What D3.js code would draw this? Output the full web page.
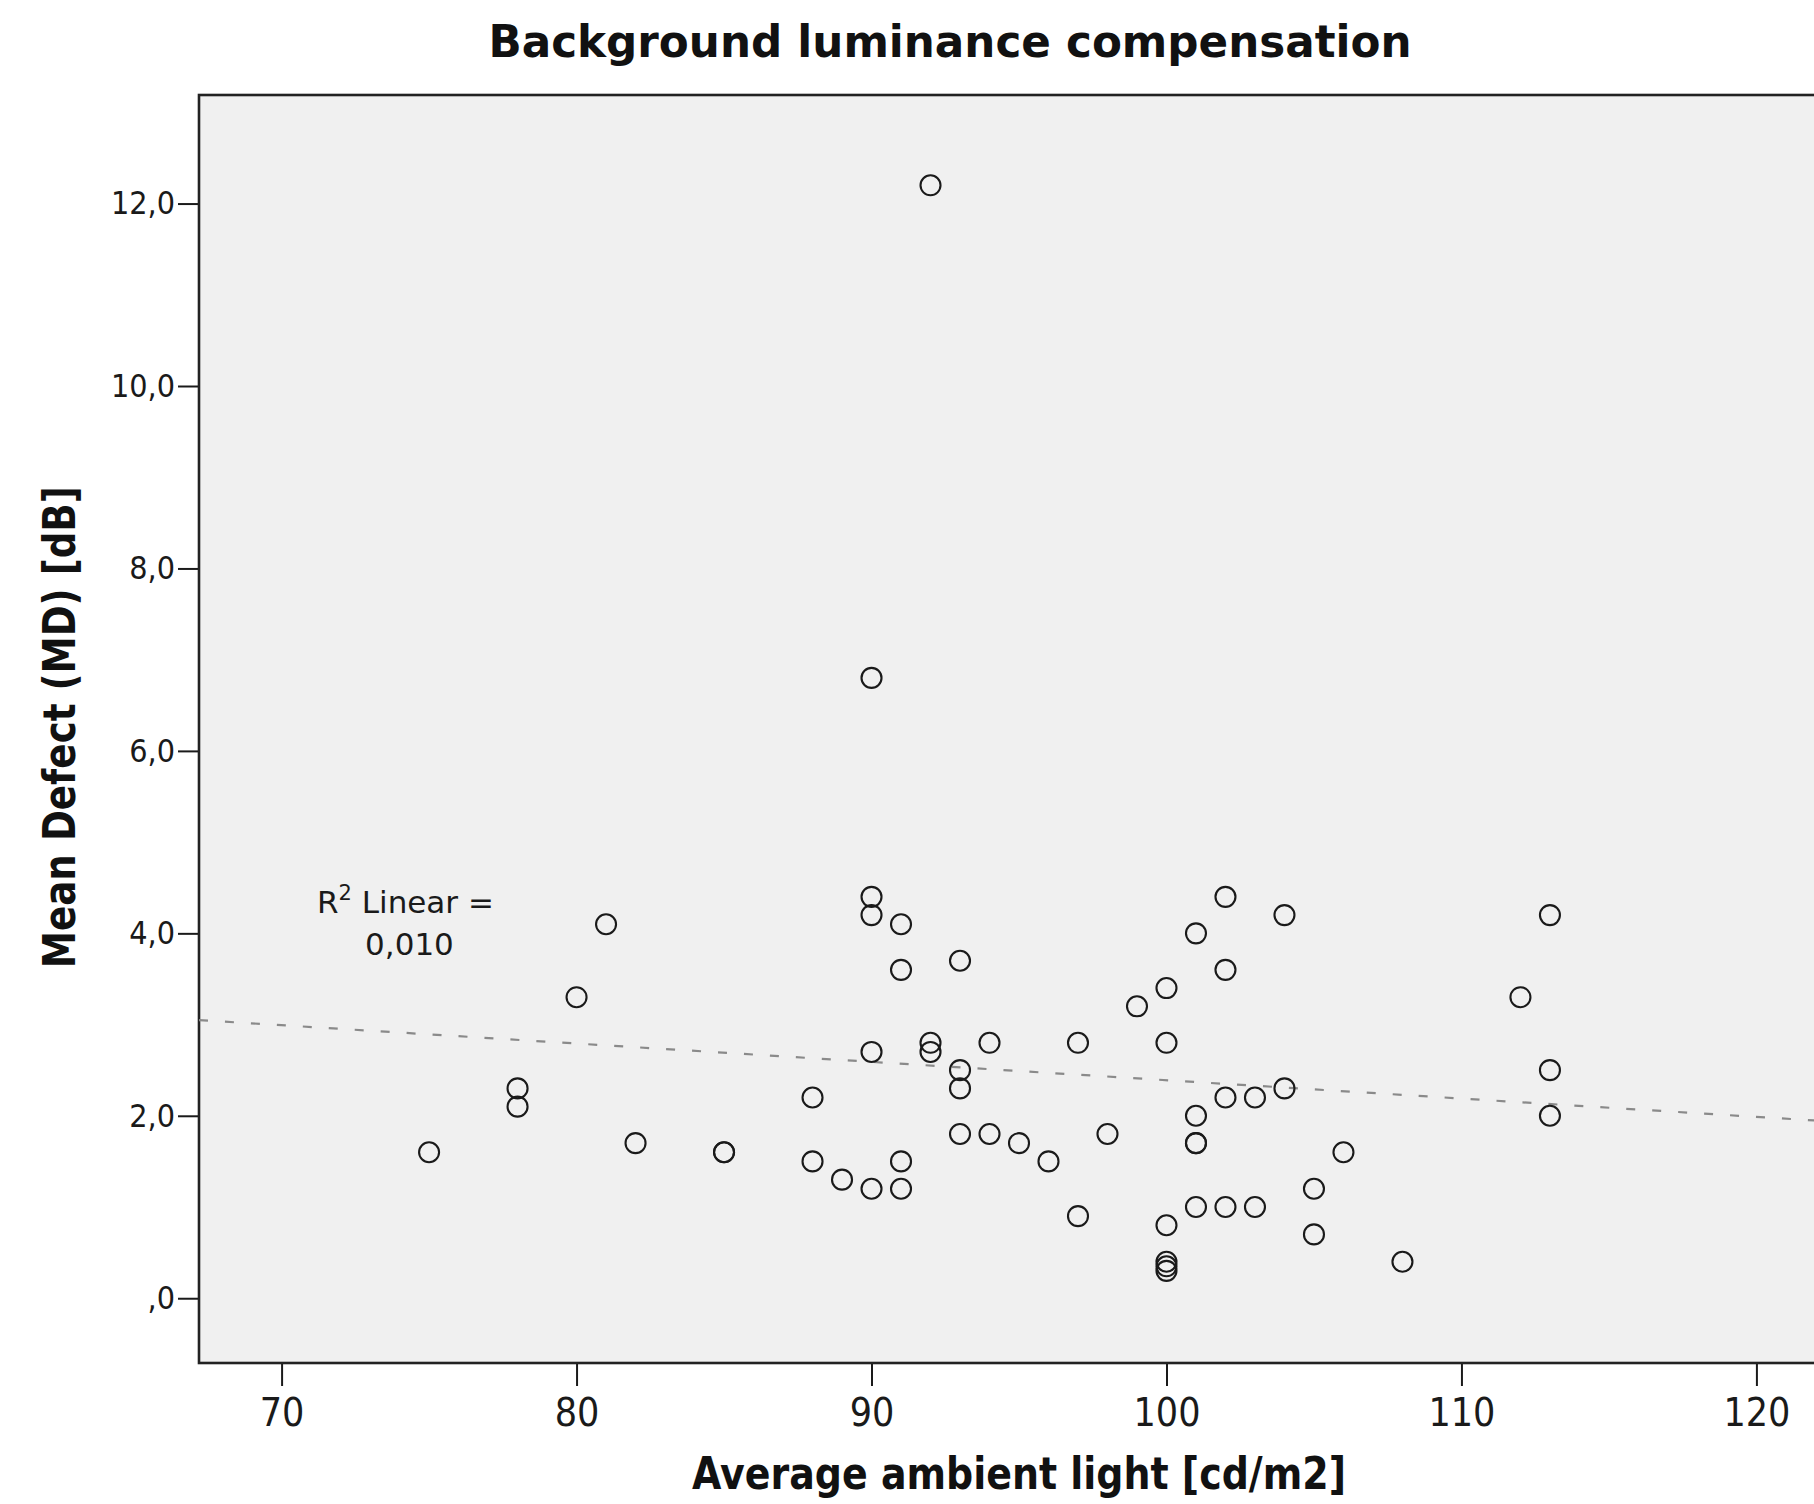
<!DOCTYPE html>
<html>
<head>
<meta charset="utf-8">
<script src="https://cdn.jsdelivr.net/npm/d3@7"></script>
<style>
  html, body { margin: 0; padding: 0; background: #fff; }
  svg { display: block; }
  .tick text { font-family: "DejaVu Sans Condensed", "DejaVu Sans", sans-serif; font-stretch: condensed; fill: #1a1a1a; }
  .tick line { stroke: #1a1a1a; stroke-width: 2; }
  .domain { display: none; }
</style>
</head>
<body>
<svg id="chart"></svg>
<script>
// ambient light (cd/m2) and mean defect (dB), one entry per eye
const lightValues = [
  92, 90, 90, 90, 91, 91, 93, 81, 80, 78, 78, 75, 82, 85, 85, 88, 88, 89, 90, 90,
  91, 91, 92, 92, 93, 93, 93, 94, 94, 95, 96, 97, 97, 98, 99, 100, 100, 100, 100, 100,
  100, 101, 101, 101, 101, 101, 102, 102, 102, 102, 103, 103, 104, 104, 105, 105, 106, 108, 112, 113,
  113, 113
];
const mdValues = [
  12.2, 6.8, 4.4, 4.2, 4.1, 3.6, 3.7, 4.1, 3.3, 2.3, 2.1, 1.6, 1.7, 1.6, 1.6, 2.2, 1.5, 1.3, 1.2, 2.7,
  1.5, 1.2, 2.8, 2.7, 2.5, 2.3, 1.8, 2.8, 1.8, 1.7, 1.5, 2.8, 0.9, 1.8, 3.2, 3.4, 2.8, 0.8, 0.4, 0.35,
  0.3, 4.0, 2.0, 1.7, 1.7, 1.0, 4.4, 3.6, 2.2, 1.0, 2.2, 1.0, 4.2, 2.3, 1.2, 0.7, 1.6, 0.4, 3.3, 4.2,
  2.5, 2.0
];

const xTicks = [70, 80, 90, 100, 110, 120];
const yTicks = [0, 2, 4, 6, 8, 10, 12];
const yTickLabels = [',0', '2,0', '4,0', '6,0', '8,0', '10,0', '12,0'];

// linear fit as drawn in the picture
const fitIntercept = 4.40;
const fitSlope = -0.0201;
const fitLabel = ['Linear =', '0,010'];

const xDomain = [67.2, 122.8];
const yDomain = [-0.71, 13.19];

const width = 1814;
const height = 1504;
const plot = { left: 199, top: 95, right: 1839, bottom: 1363 };

const svg = d3.select('#chart').attr('width', width).attr('height', height);

const xScale = d3.scaleLinear().domain(xDomain).range([plot.left, plot.right]);
const yScale = d3.scaleLinear().domain(yDomain).range([plot.bottom, plot.top]);

svg
  .append('rect')
  .attr('x', plot.left)
  .attr('y', plot.top)
  .attr('width', plot.right - plot.left)
  .attr('height', plot.bottom - plot.top)
  .attr('fill', '#f0f0f0')
  .attr('stroke', '#222')
  .attr('stroke-width', 2.6);

const xAxis = d3.axisBottom(xScale).tickValues(xTicks).tickSizeInner(22).tickSizeOuter(0).tickPadding(12);
const xAxisGroup = svg.append('g').attr('transform', `translate(0, ${plot.bottom + 1})`).call(xAxis);
xAxisGroup.selectAll('.tick text').style('font-size', '39px');

const yAxis = d3
  .axisLeft(yScale)
  .tickValues(yTicks)
  .tickFormat((d, i) => yTickLabels[i])
  .tickSizeInner(20)
  .tickSizeOuter(0)
  .tickPadding(3);
const yAxisGroup = svg.append('g').attr('transform', `translate(${plot.left - 1}, 0)`).call(yAxis);
yAxisGroup.selectAll('.tick text').style('font-size', '32px');

// fit line
const fitLine = d3
  .line()
  .x((d) => xScale(d))
  .y((d) => yScale(fitIntercept + fitSlope * d));
svg
  .append('path')
  .datum(xDomain)
  .attr('d', fitLine)
  .attr('fill', 'none')
  .attr('stroke', '#8a8a8a')
  .attr('stroke-width', 2.2)
  .attr('stroke-dasharray', '9 17');

// points
svg
  .append('g')
  .selectAll('circle')
  .data(lightValues.map((x, i) => ({ x, y: mdValues[i] })))
  .join('circle')
  .attr('cx', (d) => xScale(d.x))
  .attr('cy', (d) => yScale(d.y))
  .attr('r', 10)
  .attr('fill', 'none')
  .attr('stroke', '#1a1a1a')
  .attr('stroke-width', 2.1);

// R2 annotation
const fitText = svg
  .append('text')
  .attr('x', xScale(74.2))
  .attr('y', yScale(4.22))
  .attr('text-anchor', 'middle')
  .style('font-family', '"DejaVu Sans", sans-serif')
  .style('font-size', '31px')
  .style('fill', '#1a1a1a');
fitText.append('tspan').text('R');
fitText.append('tspan').attr('dy', -13).style('font-size', '21px').text('2');
fitText.append('tspan').attr('dy', 13).text(' ' + fitLabel[0]);
svg
  .append('text')
  .attr('x', xScale(74.2) + 4)
  .attr('y', yScale(4.22) + 42)
  .attr('text-anchor', 'middle')
  .style('font-family', '"DejaVu Sans", sans-serif')
  .style('font-size', '31px')
  .style('fill', '#1a1a1a')
  .text(fitLabel[1]);

// titles
const boldFont = '"DejaVu Sans", sans-serif';
svg
  .append('text')
  .attr('x', 950)
  .attr('y', 57)
  .attr('text-anchor', 'middle')
  .attr('textLength', 923)
  .attr('lengthAdjust', 'spacingAndGlyphs')
  .style('font-family', boldFont)
  .style('font-weight', 'bold')
  .style('font-size', '45px')
  .style('fill', '#111')
  .text('Background luminance compensation');

svg
  .append('text')
  .attr('x', 1019)
  .attr('y', 1489)
  .attr('text-anchor', 'middle')
  .attr('textLength', 654)
  .attr('lengthAdjust', 'spacingAndGlyphs')
  .style('font-family', boldFont)
  .style('font-weight', 'bold')
  .style('font-size', '44px')
  .style('fill', '#111')
  .text('Average ambient light [cd/m2]');

svg
  .append('text')
  .attr('transform', `translate(75, ${yScale(6.26)}) rotate(-90)`)
  .attr('text-anchor', 'middle')
  .attr('textLength', 482)
  .attr('lengthAdjust', 'spacingAndGlyphs')
  .style('font-family', boldFont)
  .style('font-weight', 'bold')
  .style('font-size', '45px')
  .style('fill', '#111')
  .text('Mean Defect (MD) [dB]');
</script>
</body>
</html>
